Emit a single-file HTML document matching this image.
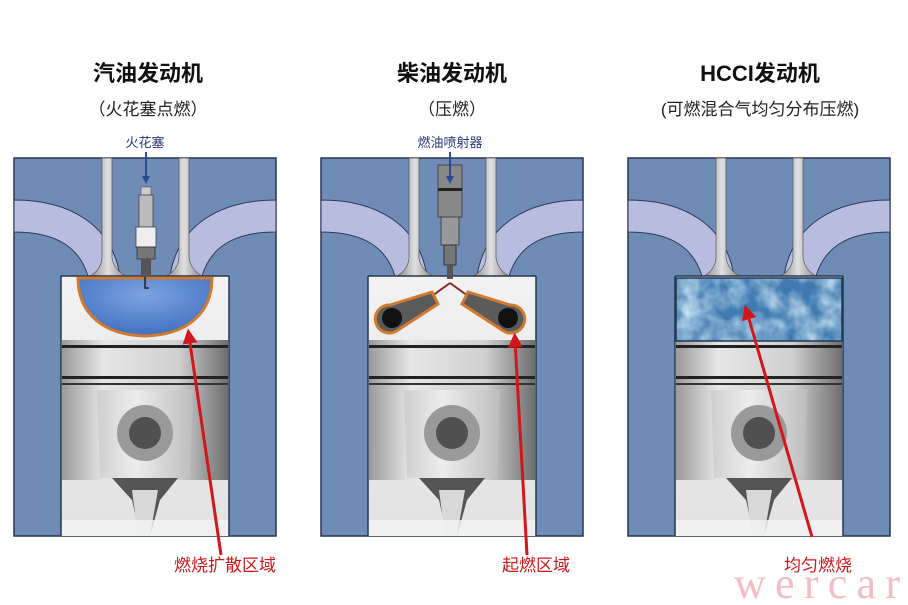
<!DOCTYPE html>
<html><head><meta charset="utf-8"><style>
html,body{margin:0;padding:0;background:#fff;}
svg{display:block;}
text{font-family:"Liberation Sans","Noto Sans CJK SC",sans-serif;}
</style></head><body>
<svg width="908" height="605" viewBox="0 0 908 605" xmlns="http://www.w3.org/2000/svg">
<defs>
<linearGradient id="stem" x1="0" x2="1"><stop offset="0" stop-color="#8a8a8a"/><stop offset=".5" stop-color="#e0e0e0"/><stop offset="1" stop-color="#8a8a8a"/></linearGradient>
<linearGradient id="pist" x1="0" x2="1"><stop offset="0" stop-color="#9a9a9a"/><stop offset=".25" stop-color="#e6e6e6"/><stop offset=".7" stop-color="#d0d0d0"/><stop offset="1" stop-color="#6e6e6e"/></linearGradient>
<linearGradient id="boss" x1="0" x2="1"><stop offset="0" stop-color="#cfcfcf"/><stop offset=".4" stop-color="#ededed"/><stop offset="1" stop-color="#bdbdbd"/></linearGradient>
<linearGradient id="bore" x1="0" y1="0" x2="0" y2="1"><stop offset="0" stop-color="#f2f2f2"/><stop offset="1" stop-color="#e2e2e2"/></linearGradient>
<radialGradient id="dome" cx=".5" cy=".3" r=".7"><stop offset="0" stop-color="#7da4e0"/><stop offset="1" stop-color="#3f6fc0"/></radialGradient>
<filter id="cloud" x="0" y="0" width="1" height="1"><feTurbulence type="fractalNoise" baseFrequency="0.05" numOctaves="3" seed="4"/><feColorMatrix values="0 0 0 0 0.62  0 0 0 0 0.8  0 0 0 0 0.94  0 0 0 1.6 -0.45"/></filter>
<g id="panel">
  <rect x="14" y="158" width="262" height="378" fill="#6f8cb6" stroke="#25364f" stroke-width="1.5"/>
  <path d="M14,200 C70,200 112,225 120,276 L88,276 C80,250 60,232 14,232 Z" fill="#b8bde0" stroke="#2b3a5a" stroke-width="1"/>
  <path d="M276,200 C220,200 178,225 170,276 L202,276 C210,250 230,232 276,232 Z" fill="#b8bde0" stroke="#2b3a5a" stroke-width="1"/>
  <path d="M102,158 L112,158 L112,258 Q114,270 126,276 L90,276 Q101,270 102,258 Z" fill="url(#stem)" stroke="#555" stroke-width=".7"/>
  <path d="M179,158 L189,158 L189,258 Q191,270 202,276 L166,276 Q178,270 179,258 Z" fill="url(#stem)" stroke="#555" stroke-width=".7"/>
  <rect x="61" y="276" width="168" height="260" fill="url(#bore)"/>
  <rect x="62" y="340" width="166" height="140" fill="url(#pist)"/>
  <rect x="62" y="345" width="166" height="3" fill="#222"/>
  <rect x="62" y="376" width="166" height="3" fill="#222"/>
  <rect x="62" y="383" width="166" height="2" fill="#333"/>
  <path d="M97,390 L193,390 L190,478 L100,478 Z" fill="url(#boss)"/>
  <circle cx="145" cy="433" r="28" fill="#9a9a9a"/>
  <circle cx="145" cy="433" r="16" fill="#505050"/>
  <path d="M112,478 L178,478 L160,500 L150,536 L140,536 L132,500 Z" fill="#3c3c3c" opacity=".85"/>
  <path d="M132,490 L158,490 L150,536 L138,536 Z" fill="#d8d8d8"/>
  <rect x="61" y="520" width="168" height="16" fill="#f4f4f4" opacity=".8"/>
  <line x1="61" y1="276" x2="229" y2="276" stroke="#25364f" stroke-width="1.5"/>
  <line x1="61" y1="276" x2="61" y2="536" stroke="#25364f" stroke-width="1.5"/>
  <line x1="229" y1="276" x2="229" y2="536" stroke="#25364f" stroke-width="1.5"/>
</g>
<marker id="ra" viewBox="0 0 10 10" refX="5" refY="5" markerWidth="5" markerHeight="5" orient="auto"><path d="M0,0 L10,5 L0,10 Z" fill="#d0181c"/></marker>
<marker id="ba" viewBox="0 0 10 10" refX="5" refY="5" markerWidth="4" markerHeight="4" orient="auto"><path d="M0,0 L10,5 L0,10 Z" fill="#2b4a9a"/></marker>
</defs>

<use href="#panel"/>
<use href="#panel" transform="translate(307,0)"/>
<use href="#panel" transform="translate(614,0)"/>

<path d="M78,278 L212,278 C212,315 185,335 145,336 C105,335 78,315 78,278 Z" fill="url(#dome)" stroke="#d07a30" stroke-width="3"/>
<rect x="141" y="187" width="10" height="8" fill="#ccc" stroke="#555" stroke-width=".6"/>
<rect x="139" y="195" width="14" height="32" fill="#bbb" stroke="#444" stroke-width=".8"/>
<rect x="136" y="227" width="20" height="20" fill="#eee" stroke="#444" stroke-width=".8"/>
<rect x="137" y="247" width="18" height="12" fill="#777" stroke="#333" stroke-width=".8"/>
<rect x="141" y="259" width="10" height="18" fill="#555"/>
<path d="M145,277 L145,288 L149,288" fill="none" stroke="#222" stroke-width="1.5"/>
<line x1="146" y1="152" x2="146" y2="180" stroke="#2b4a9a" stroke-width="2" marker-end="url(#ba)"/>

<rect x="438" y="165" width="24" height="52" fill="#888" stroke="#444"/>
<rect x="438" y="188" width="24" height="3" fill="#222"/>
<rect x="441" y="217" width="18" height="28" fill="#999" stroke="#444"/>
<rect x="444" y="245" width="12" height="20" fill="#777" stroke="#333"/>
<rect x="447" y="265" width="6" height="14" fill="#555"/>
<line x1="450" y1="152" x2="450" y2="180" stroke="#2b4a9a" stroke-width="2" marker-end="url(#ba)"/>
<line x1="450" y1="283" x2="432" y2="296" stroke="#8a2222" stroke-width="2"/>
<line x1="450" y1="283" x2="468" y2="296" stroke="#8a2222" stroke-width="2"/>
<g stroke="#d07a30" stroke-width="3">
<path d="M432,292 L390,305 A14,14 0 1 0 398,330 L438,304 Z" fill="#5a5a5a"/>
<path d="M468,292 L510,305 A14,14 0 1 1 502,330 L462,304 Z" fill="#5a5a5a"/>
</g>
<circle cx="392" cy="318" r="10" fill="#111"/>
<circle cx="508" cy="318" r="10" fill="#111"/>

<rect x="676" y="278" width="166" height="63" fill="#3f7ab0"/>
<rect x="676" y="278" width="166" height="63" filter="url(#cloud)"/>
<rect x="676" y="278" width="166" height="63" fill="none" stroke="#25364f" stroke-width="1.5"/>

<line x1="221" y1="555" x2="189" y2="336" stroke="#d0181c" stroke-width="3" marker-end="url(#ra)"/>
<line x1="527" y1="555" x2="515" y2="340" stroke="#d0181c" stroke-width="3" marker-end="url(#ra)"/>
<line x1="812" y1="537" x2="747" y2="312" stroke="#d0181c" stroke-width="3" marker-end="url(#ra)"/>

<g font-weight="bold" font-size="22" fill="#111" text-anchor="middle">
<text x="148" y="81">汽油发动机</text>
<text x="452" y="81">柴油发动机</text>
<text x="760" y="81">HCCI发动机</text>
</g>
<g font-size="17" fill="#222" text-anchor="middle">
<text x="148" y="115">（火花塞点燃）</text>
<text x="452" y="115">（压燃）</text>
<text x="760" y="115">(可燃混合气均匀分布压燃)</text>
</g>
<g font-size="13" fill="#2b3a7a" text-anchor="middle">
<text x="145" y="147">火花塞</text>
<text x="450" y="147">燃油喷射器</text>
</g>
<g font-size="17" fill="#d0181c" text-anchor="middle">
<text x="225" y="571">燃烧扩散区域</text>
<text x="536" y="571">起燃区域</text>
<text x="818" y="571">均匀燃烧</text>
</g>
<text x="734" y="598" textLength="166" lengthAdjust="spacing" style="font-family:'Liberation Serif',serif;font-size:44px" fill="#f3bcc6">wercar</text>
</svg>
</body></html>
